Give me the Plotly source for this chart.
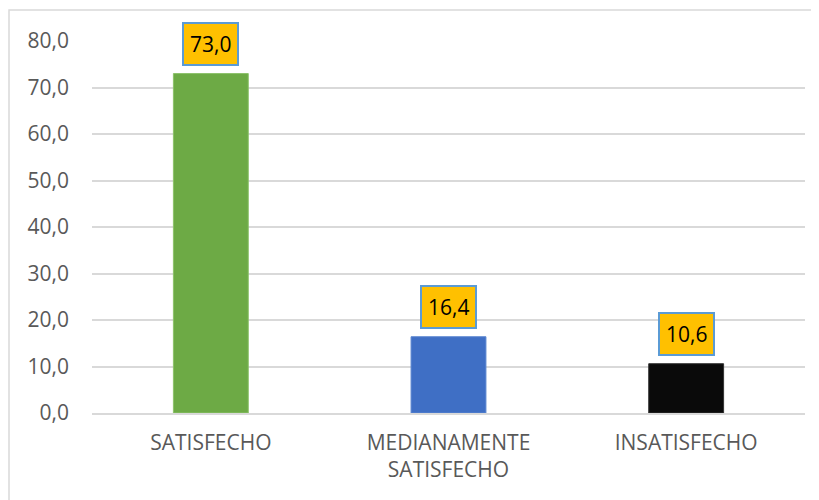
import plotly.graph_objects as go

categories = ["SATISFECHO", "MEDIANAMENTE<br>SATISFECHO", "INSATISFECHO"]
values = [73.0, 16.4, 10.6]
bar_colors = ["#6DAA45", "#3F6FC5", "#0A0A0A"]
y_ticks = [0, 10, 20, 30, 40, 50, 60, 70, 80]

font_name = "Open Sans"
grey_text = "#595959"

fig = go.Figure()
fig.add_trace(go.Bar(
    x=categories,
    y=values,
    width=0.315,
    marker=dict(color=bar_colors, line=dict(color=["#8CC26A", "#5B86D0", "#333333"], width=1)),
    hoverinfo="skip",
))

# value labels in orange boxes
for cat, val in zip(categories, values):
    fig.add_annotation(
        x=cat, y=val,
        text=f"{val:.1f}".replace(".", ","),
        showarrow=False,
        yanchor="bottom", yshift=8,
        font=dict(family=font_name, size=21, color="#000000"),
        bgcolor="#FFC000",
        bordercolor="#5B9BD5", borderwidth=2, borderpad=6,
    )

# chart-area border
fig.add_shape(type="rect", xref="paper", yref="paper",
              x0=-0.1164, x1=1.1, y0=-0.4, y1=1.0833,
              line=dict(color="#D9D9D9", width=1.5), layer="below")

# page body has an 8px margin, so the figure is shrunk by that much
fig.update_layout(
    width=811, height=492,
    margin=dict(l=84, r=14, t=33, b=87),
    plot_bgcolor="white", paper_bgcolor="white",
    showlegend=False,
    font=dict(family=font_name, size=21, color=grey_text),
    bargap=0.685,
)
fig.update_yaxes(
    range=[0, 80], tickvals=y_ticks,
    ticktext=[f"{t:.1f}".replace(".", ",") for t in y_ticks],
    showgrid=True, gridcolor="#D9D9D9", gridwidth=1.5,
    zeroline=False, showline=False, ticks="",
    ticklabelstandoff=22,
    tickfont=dict(family=font_name, size=21, color=grey_text),
)
fig.update_xaxes(
    showgrid=False, showline=True, linecolor="#D9D9D9", linewidth=1.5,
    ticks="", ticklabelstandoff=10,
    tickfont=dict(family=font_name, size=21, color=grey_text),
)

fig.write_html("out.html")
